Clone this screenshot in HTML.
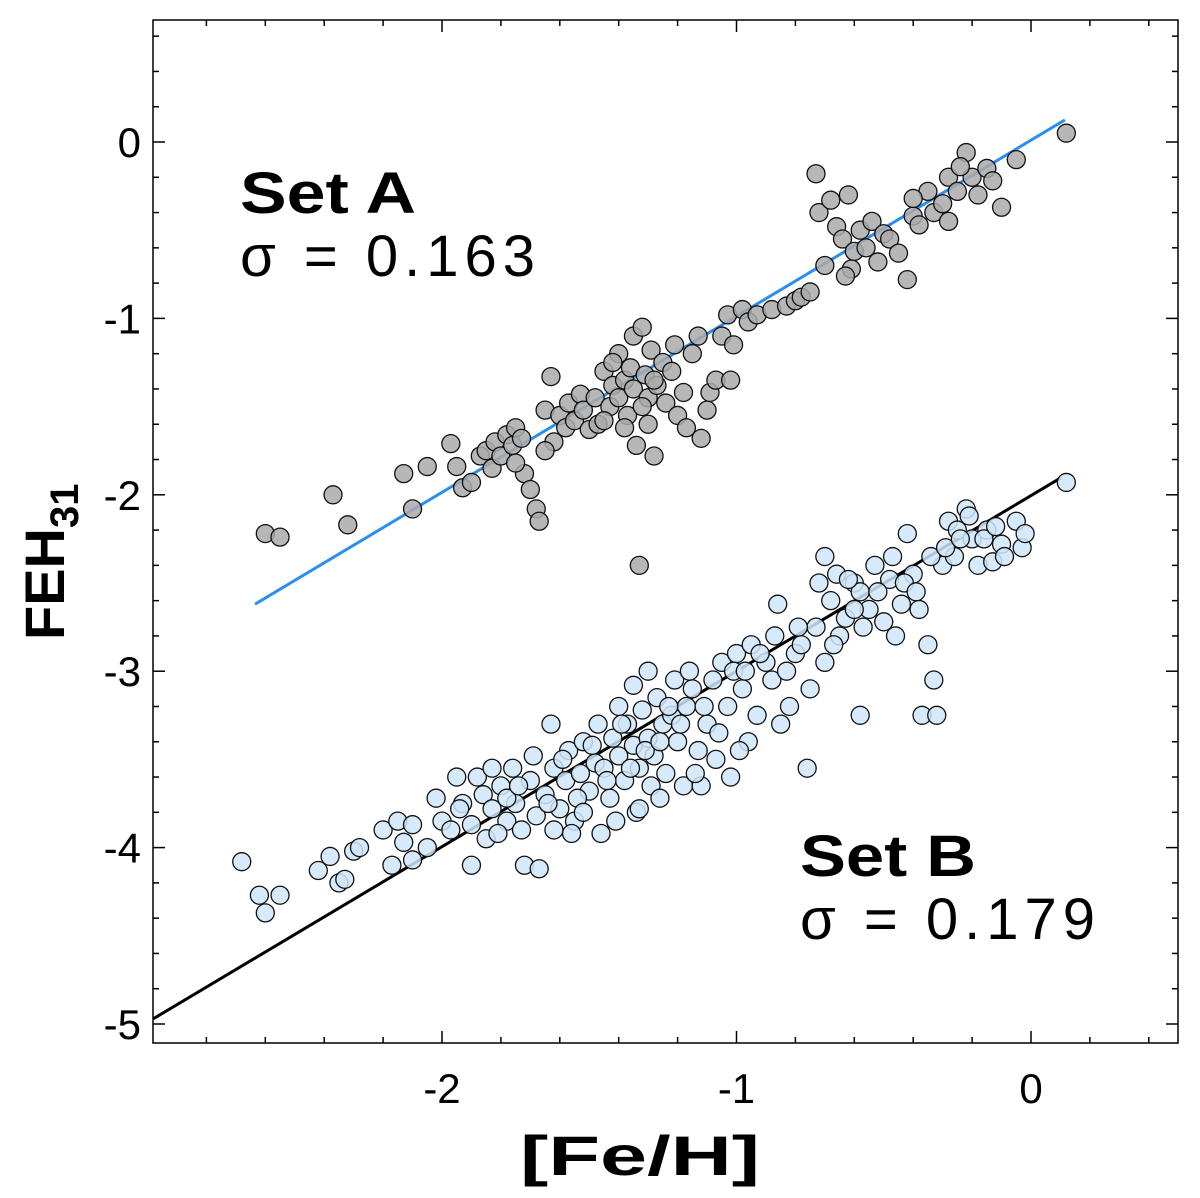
<!DOCTYPE html>
<html><head><meta charset="utf-8"><style>
body{margin:0;background:#fff}
svg{display:block;font-family:"Liberation Sans",Arial,sans-serif}
</style></head><body>
<svg id="chart" width="1200" height="1198" viewBox="0 0 1200 1198">
<rect x="153" y="20" width="1025" height="1023" fill="none" stroke="#000" stroke-width="1.5"/>
<g id="ticks"></g>
<g id="lines"></g>
<g id="pts"></g>
<g id="labels" font-size="42" fill="#000"></g>
<text x="240" y="213" font-size="58" font-weight="bold" textLength="176" lengthAdjust="spacingAndGlyphs">Set A</text>
<text x="240" y="276" font-size="58" textLength="295" lengthAdjust="spacing">σ  = 0.163</text>
<text x="800" y="876" font-size="58" font-weight="bold" textLength="176" lengthAdjust="spacingAndGlyphs">Set B</text>
<text x="800" y="939" font-size="58" textLength="295" lengthAdjust="spacing">σ  = 0.179</text>
<text x="520" y="1175" font-size="56" font-weight="bold" textLength="240" lengthAdjust="spacingAndGlyphs">[Fe/H]</text>
<text transform="translate(64,640) rotate(-90)" font-size="56" font-weight="bold">FEH<tspan font-size="40" dy="14">31</tspan></text>
</svg>
<script>
const xTicks=[-2,-1,0];
const yTicks=[0,-1,-2,-3,-4,-5];
const fitA=[[-2.635,-2.62],[0.115,0.125]];
const fitB=[[-2.98,-4.97],[0.1,-1.905]];
const setA=[[-2.6,-2.22],[-2.55,-2.24],[-2.37,-2.0],[-2.32,-2.17],[-2.13,-1.88],[-2.1,-2.08],[-2.05,-1.84],[-1.97,-1.71],[-1.95,-1.84],[-1.93,-1.96],[-1.9,-1.93],[-1.87,-1.78],[-1.85,-1.75],[-1.83,-1.85],[-1.82,-1.7],[-1.8,-1.78],[-1.78,-1.66],[-1.76,-1.72],[-1.75,-1.62],[-1.73,-1.68],[-1.72,-1.88],[-1.7,-1.97],[-1.68,-2.08],[-1.67,-2.15],[-1.65,-1.52],[-1.63,-1.33],[-1.62,-1.7],[-1.6,-1.55],[-1.58,-1.62],[-1.57,-1.48],[-1.55,-1.58],[-1.53,-1.43],[-1.52,-1.52],[-1.5,-1.63],[-1.48,-1.45],[-1.47,-1.6],[-1.45,-1.3],[-1.43,-1.5],[-1.42,-1.38],[-1.4,-1.2],[-1.4,-1.45],[-1.38,-1.35],[-1.37,-1.55],[-1.36,-1.28],[-1.35,-1.1],[-1.35,-1.4],[-1.34,-1.72],[-1.33,-2.4],[-1.32,-1.05],[-1.31,-1.32],[-1.3,-1.45],[-1.3,-1.6],[-1.29,-1.18],[-1.28,-1.78],[-1.27,-1.38],[-1.25,-1.25],[-1.24,-1.48],[-1.22,-1.3],[-1.21,-1.15],[-1.2,-1.55],[-1.18,-1.42],[-1.17,-1.62],[-1.15,-1.2],[-1.13,-1.1],[-1.12,-1.68],[-1.1,-1.52],[-1.09,-1.42],[-1.07,-1.35],[-1.05,-1.1],[-1.03,-0.98],[-1.01,-1.15],[-0.98,-0.95],[-0.96,-1.02],[-0.93,-0.98],[-0.88,-0.95],[-0.83,-0.93],[-0.8,-0.9],[-0.78,-0.88],[-0.75,-0.85],[-0.73,-0.18],[-0.72,-0.4],[-0.7,-0.7],[-0.68,-0.33],[-0.66,-0.48],[-0.64,-0.55],[-0.62,-0.3],[-0.61,-0.72],[-0.6,-0.62],[-0.58,-0.5],[-0.56,-0.6],[-0.54,-0.45],[-0.52,-0.68],[-0.5,-0.52],[-0.48,-0.55],[-0.45,-0.63],[-0.42,-0.78],[-0.4,-0.42],[-0.38,-0.47],[-0.35,-0.28],[-0.33,-0.4],[-0.3,-0.35],[-0.28,-0.2],[-0.25,-0.28],[-0.22,-0.06],[-0.2,-0.2],[-0.18,-0.3],[-0.15,-0.15],[-0.13,-0.22],[-0.1,-0.37],[-0.05,-0.1],[0.12,0.05],[-0.28,-0.45],[-0.24,-0.14],[-1.75,-1.82],[-1.65,-1.75],[-1.45,-1.58],[-1.42,-1.25],[-1.38,-1.62],[-1.32,-1.5],[-1.28,-1.35],[-1.02,-1.35],[-0.4,-0.32],[-0.63,-0.76]];
const setB=[[-2.68,-4.08],[-2.62,-4.27],[-2.6,-4.37],[-2.55,-4.27],[-2.42,-4.13],[-2.38,-4.05],[-2.35,-4.2],[-2.33,-4.18],[-2.3,-4.02],[-2.28,-4.0],[-2.2,-3.9],[-2.17,-4.1],[-2.15,-3.85],[-2.13,-3.97],[-2.1,-4.07],[-2.1,-3.87],[-2.05,-4.0],[-2.0,-3.85],[-1.97,-3.9],[-1.95,-3.6],[-1.93,-3.75],[-1.9,-4.1],[-1.88,-3.6],[-1.86,-3.7],[-1.85,-3.95],[-1.83,-3.78],[-1.8,-3.65],[-1.78,-3.85],[-1.76,-3.55],[-1.75,-3.75],[-1.73,-3.9],[-1.72,-4.1],[-1.7,-3.62],[-1.68,-3.82],[-1.67,-4.12],[-1.65,-3.7],[-1.63,-3.3],[-1.62,-3.55],[-1.6,-3.78],[-1.58,-3.62],[-1.57,-3.45],[-1.55,-3.85],[-1.53,-3.58],[-1.52,-3.4],[-1.5,-3.68],[-1.48,-3.52],[-1.47,-3.3],[-1.45,-3.55],[-1.43,-3.72],[-1.42,-3.38],[-1.4,-3.2],[-1.4,-3.48],[-1.38,-3.62],[-1.37,-3.3],[-1.35,-3.08],[-1.35,-3.42],[-1.34,-3.8],[-1.33,-3.55],[-1.32,-3.22],[-1.3,-3.0],[-1.3,-3.38],[-1.29,-3.65],[-1.28,-3.48],[-1.27,-3.15],[-1.25,-3.3],[-1.24,-3.58],[-1.22,-3.25],[-1.21,-3.05],[-1.2,-3.4],[-1.18,-3.65],[-1.17,-3.2],[-1.15,-3.1],[-1.13,-3.45],[-1.12,-3.65],[-1.1,-3.3],[-1.08,-3.05],[-1.07,-3.5],[-1.05,-2.95],[-1.03,-3.2],[-1.02,-3.6],[-1.0,-2.9],[-0.98,-3.1],[-0.96,-3.4],[-0.95,-2.85],[-0.93,-3.25],[-0.9,-2.95],[-0.88,-3.05],[-0.86,-2.62],[-0.85,-3.3],[-0.82,-3.2],[-0.8,-2.9],[-0.78,-2.85],[-0.76,-3.55],[-0.73,-2.75],[-0.72,-2.5],[-0.7,-2.35],[-0.68,-2.6],[-0.66,-2.45],[-0.65,-2.8],[-0.63,-2.7],[-0.6,-2.5],[-0.58,-2.55],[-0.55,-2.65],[-0.53,-2.4],[-0.5,-2.72],[-0.48,-2.48],[-0.46,-2.8],[-0.44,-2.62],[-0.42,-2.22],[-0.4,-2.45],[-0.38,-2.65],[-0.37,-3.25],[-0.35,-2.85],[-0.33,-3.05],[-0.32,-3.25],[-0.3,-2.4],[-0.28,-2.15],[-0.26,-2.35],[-0.25,-2.2],[-0.22,-2.08],[-0.2,-2.25],[-0.18,-2.4],[-0.15,-2.2],[-0.13,-2.38],[-0.1,-2.28],[-0.05,-2.15],[-0.03,-2.3],[-0.02,-2.22],[0.12,-1.93],[-1.83,-3.55],[-1.78,-3.72],[-1.74,-3.65],[-1.69,-3.48],[-1.64,-3.75],[-1.59,-3.5],[-1.54,-3.72],[-1.49,-3.42],[-1.44,-3.62],[-1.39,-3.3],[-1.36,-3.55],[-1.31,-3.45],[-1.26,-3.4],[-1.23,-3.2],[-1.19,-3.3],[-1.16,-3.0],[-1.11,-3.2],[-1.06,-3.35],[-1.01,-3.0],[-0.97,-3.0],[-0.92,-2.9],[-0.87,-2.8],[-0.83,-3.0],[-0.79,-2.75],[-0.75,-3.1],[-0.7,-2.95],[-0.67,-2.85],[-0.62,-2.48],[-0.57,-2.75],[-0.52,-2.55],[-0.47,-2.35],[-0.43,-2.5],[-0.39,-2.55],[-0.34,-2.35],[-0.29,-2.3],[-0.24,-2.25],[-0.21,-2.12],[-0.16,-2.25],[-0.12,-2.18],[-0.09,-2.35],[-0.58,-3.25],[-0.6,-2.65],[-1.94,-3.78],[-1.81,-3.92],[-1.56,-3.92],[-1.46,-3.92],[-1.26,-3.72],[-1.14,-3.58],[-0.99,-3.45],[-2.02,-3.72],[-1.9,-3.87],[-1.62,-3.9],[-1.52,-3.8],[-1.41,-3.85],[-1.33,-3.78]];

const NS='http://www.w3.org/2000/svg';
const L=153,R=1178,T=20,B=1043;
const sx=v=>1031+v*294.5;
const sy=v=>142-v*176.4;
function mk(tag,attrs,parent){const e=document.createElementNS(NS,tag);for(const k in attrs)e.setAttribute(k,attrs[k]);parent.appendChild(e);return e;}
const tg=document.getElementById('ticks');
for(let i=-15;i<=2;i++){const v=i*0.2;const x=sx(v);if(x<L+2||x>R-2)continue;const major=Math.abs(v-Math.round(v))<1e-6;const len=major?12:6;
 const t1=mk('line',{x1:x,x2:x,y1:B,y2:B-len,stroke:'#000','stroke-width':1.5},tg);
 
 
 const t2=mk('line',{x1:x,x2:x,y1:T,y2:T+len,stroke:'#000','stroke-width':1.5},tg);
 
 }
for(let i=-26;i<=4;i++){const v=i*0.2;const y=sy(v);if(y<T+2||y>B-2)continue;const major=Math.abs(v-Math.round(v))<1e-6;const len=major?12:6;
 const t1=mk('line',{x1:L,x2:L+len,y1:y,y2:y,stroke:'#000','stroke-width':1.5},tg);
 
 
 const t2=mk('line',{x1:R,x2:R-len,y1:y,y2:y,stroke:'#000','stroke-width':1.5},tg);
 
 }
const lg=document.getElementById('labels');
xTicks.forEach(v=>{const t=mk('text',{x:sx(v),y:1103,'text-anchor':'middle'},lg);t.textContent=String(v);
 
 });
yTicks.forEach(v=>{const t=mk('text',{x:141,y:sy(v)+15,'text-anchor':'end'},lg);t.textContent=String(v);
 
 });
const pg=document.getElementById('pts');
setB.forEach(p=>{const c=mk('circle',{cx:sx(p[0]),cy:sy(p[1]),r:9,fill:'#cfe6fa','fill-opacity':0.85,stroke:'#111','stroke-width':1.3},pg);
 
 });
setA.forEach(p=>{const c=mk('circle',{cx:sx(p[0]),cy:sy(p[1]),r:9,fill:'#aaaaaa','fill-opacity':0.85,stroke:'#111','stroke-width':1.3},pg);
 
 });
const lgp=document.getElementById('lines');
const la=mk('line',{x1:sx(fitA[0][0]),y1:sy(fitA[0][1]),x2:sx(fitA[1][0]),y2:sy(fitA[1][1]),stroke:'#2a8ff0','stroke-width':3},lgp);


const lb=mk('line',{x1:sx(fitB[0][0]),y1:sy(fitB[0][1]),x2:sx(fitB[1][0]),y2:sy(fitB[1][1]),stroke:'#000','stroke-width':3},lgp);


</script>
</body></html>
